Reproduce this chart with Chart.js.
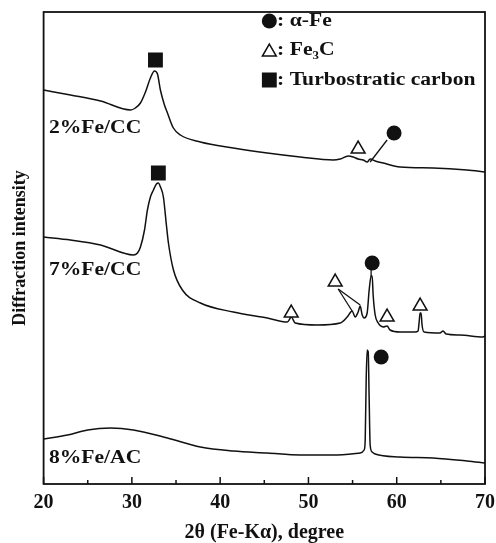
<!DOCTYPE html>
<html>
<head>
<meta charset="utf-8">
<script src="https://cdn.jsdelivr.net/npm/chart.js@4.4.1/dist/chart.umd.min.js"></script>
<style>
html,body{margin:0;padding:0;background:#fff;}
#c{display:block;}
</style>
</head>
<body>
<canvas id="c" width="496" height="543"></canvas>
<script>
// ---- data (2θ in degrees, intensity in arbitrary stacked units) ----
const xTicks = [20, 30, 40, 50, 60, 70];
const minorTicks = [25, 35, 45, 55, 65];

const theta2Fe = [20.0, 23.05, 26.45, 29.84, 30.4, 30.97, 31.54, 32.1, 32.56, 32.9, 33.23, 33.69, 34.03, 34.7, 35.5, 37.76, 41.49, 45.34, 49.07, 52.8, 53.6, 54.5, 55.07, 55.63, 56.2, 56.65, 56.99, 57.56, 58.46, 60.38, 64.12, 67.96, 70.0];
const int2Fe   = [394, 389, 383, 374, 376, 381, 392, 406, 413, 410, 394, 379, 371, 356, 349, 342, 336, 331, 327, 324, 325, 328, 327, 325, 324, 322, 325, 323, 321, 317, 316, 314, 312];

const theta7Fe = [20.0, 23.05, 26.45, 30.18, 30.63, 30.97, 31.43, 31.76, 32.1, 32.44, 32.78, 33.0, 33.24, 33.57, 33.91, 34.14, 34.71, 35.72, 37.76, 41.49, 45.34, 47.6, 47.94, 48.05, 48.17, 48.5, 51.0, 53.6, 54.39, 54.95, 55.29, 55.63, 55.86, 56.09, 56.31, 56.65, 56.88, 57.1, 57.22, 57.33, 57.56, 57.9, 58.46, 58.91, 59.25, 60.38, 62.08, 62.42, 62.54, 62.65, 62.76, 62.87, 63.1, 64.9, 65.25, 65.59, 67.17, 69.77, 70.0];
const int7Fe   = [247, 244, 239, 229, 231, 237, 254, 274, 287, 294, 300, 301, 297, 287, 259, 241, 214, 194, 181, 172, 166, 162, 166, 168, 166, 161, 159, 161, 167, 173, 167, 172, 178, 169, 166, 171, 194, 208, 208, 189, 169, 161, 157, 158, 154, 152, 152, 153, 162, 171, 171, 159, 152, 151, 153, 150, 149, 147, 148];

const theta8Fe = [20.0, 22.71, 24.98, 27.58, 30.18, 34.03, 37.76, 41.49, 45.34, 49.07, 52.8, 55.86, 56.31, 56.43, 56.54, 56.65, 56.77, 56.88, 56.99, 57.22, 57.56, 60.38, 64.12, 67.96, 70.0];
const int8Fe   = [45, 49, 54, 56, 54, 46, 37, 33, 31, 29, 29, 31, 34, 44, 104, 134, 132, 84, 39, 32, 30, 27, 26, 23, 21];

// phase markers
const alphaFeX = [59.7, 57.22, 58.24, 45.57];
const alphaFeY = [351, 221, 127, 463];
const fe3cX = [55.63, 48.05, 53.03, 58.91, 62.65, 45.57];
const fe3cY = [335, 171, 202, 167, 178, 432];
const carbonX = [32.67, 33.0, 45.57];
const carbonY = [424, 311, 404];

// leader lines
const leaders = [
  [[56.99, 322], [58.91, 344]],
  [[57.1, 214], [57.1, 207]],
  [[53.37, 195], [54.95, 173]],
  [[53.37, 195], [55.86, 179]]
];

const sampleLabels = ['2%Fe/CC', '7%Fe/CC', '8%Fe/AC'];
const sampleLabelY = [356, 214, 26];
const legendTexts = [': \u03B1-Fe', ': Fe\u2083C', ': Turbostratic carbon'];
const legendY = [463, 434, 404];

const pts = (xs, ys) => xs.map((x, i) => ({x: x, y: ys[i]}));
const INK = '#111';
const SERIF = '"Liberation Serif", "Times New Roman", serif';

const datasets = [];
datasets.push({ label: 'alpha-Fe', data: pts(alphaFeX, alphaFeY), showLine: false, pointStyle: 'circle', pointRadius: 7.5, backgroundColor: INK, borderColor: INK, borderWidth: 0 });
datasets.push({ label: 'Fe3C', data: pts(fe3cX, fe3cY), showLine: false, pointStyle: 'triangle', pointRadius: 8, backgroundColor: '#fff', borderColor: INK, borderWidth: 1.5 });
datasets.push({ label: 'carbon', data: pts(carbonX, carbonY), showLine: false, pointStyle: 'rect', pointRadius: 10.5, backgroundColor: INK, borderColor: INK, borderWidth: 0 });
leaders.forEach((l, i) => datasets.push({ label: 'leader' + i, data: l.map(p => ({x: p[0], y: p[1]})), showLine: true, pointRadius: 0, borderColor: INK, borderWidth: 1.3 }));
[[theta2Fe, int2Fe, '2%Fe/CC'], [theta7Fe, int7Fe, '7%Fe/CC'], [theta8Fe, int8Fe, '8%Fe/AC']].forEach(s => {
  datasets.push({ label: s[2], data: pts(s[0], s[1]), showLine: true, pointRadius: 0, borderColor: INK, borderWidth: 1.5, tension: 0.25, cubicInterpolationMode: 'monotone' });
});

const decor = {
  id: 'decor',
  afterDraw(chart) {
    const ctx = chart.ctx, a = chart.chartArea, xs = chart.scales.x, ys = chart.scales.y;
    ctx.save();
    ctx.strokeStyle = INK;
    ctx.lineWidth = 1.8;
    ctx.strokeRect(a.left, a.top, a.right - a.left, a.bottom - a.top);
    ctx.lineWidth = 1.5;
    ctx.beginPath();
    xTicks.forEach(v => { const p = xs.getPixelForValue(v); ctx.moveTo(p, a.bottom); ctx.lineTo(p, a.bottom - 7); });
    minorTicks.forEach(v => { const p = xs.getPixelForValue(v); ctx.moveTo(p, a.bottom); ctx.lineTo(p, a.bottom - 4); });
    ctx.stroke();
    ctx.fillStyle = INK;
    ctx.textBaseline = 'middle';
    ctx.font = 'bold 18px ' + SERIF;
    const drawStretched = (t, x, y) => { ctx.save(); ctx.translate(x, y); ctx.scale(1.2, 1); ctx.fillText(t, 0, 0); ctx.restore(); };
    sampleLabels.forEach((t, i) => drawStretched(t, xs.getPixelForValue(20.6), ys.getPixelForValue(sampleLabelY[i])));
    legendTexts.forEach((t, i) => drawStretched(t, xs.getPixelForValue(46.45), ys.getPixelForValue(legendY[i])));
    ctx.restore();
  }
};

new Chart(document.getElementById('c'), {
  type: 'scatter',
  data: { datasets: datasets },
  plugins: [decor],
  options: {
    responsive: false,
    animation: false,
    devicePixelRatio: 1,
    layout: { padding: { left: 10, top: 12, right: 11, bottom: 0 } },
    plugins: { legend: { display: false }, tooltip: { enabled: false } },
    elements: { line: { fill: false } },
    scales: {
      x: {
        type: 'linear', min: 20, max: 70, position: 'bottom',
        afterBuildTicks: s => { s.ticks = xTicks.map(v => ({ value: v })); },
        afterFit: s => { s.paddingLeft = 0; s.paddingRight = 0; },
        ticks: { color: INK, padding: 9, maxRotation: 0, font: { family: SERIF, size: 20, weight: 'bold', lineHeight: 1.0 } },
        grid: { display: false, drawTicks: false },
        border: { display: false },
        title: { display: true, text: '2\u03B8 (Fe-K\u03B1), degree', color: INK, font: { family: SERIF, size: 20, weight: 'bold', lineHeight: 1.0 }, padding: { top: 1, bottom: 0 } }
      },
      y: {
        type: 'linear', min: 0, max: 472, position: 'left',
        afterFit: s => { s.paddingTop = 0; s.paddingBottom = 0; },
        ticks: { display: false },
        grid: { display: false, drawTicks: false },
        border: { display: false },
        title: { display: true, text: 'Diffraction intensity', color: INK, font: { family: SERIF, size: 18, weight: 'bold' }, padding: { top: 0, bottom: 12 } }
      }
    }
  }
});
</script>
</body>
</html>
